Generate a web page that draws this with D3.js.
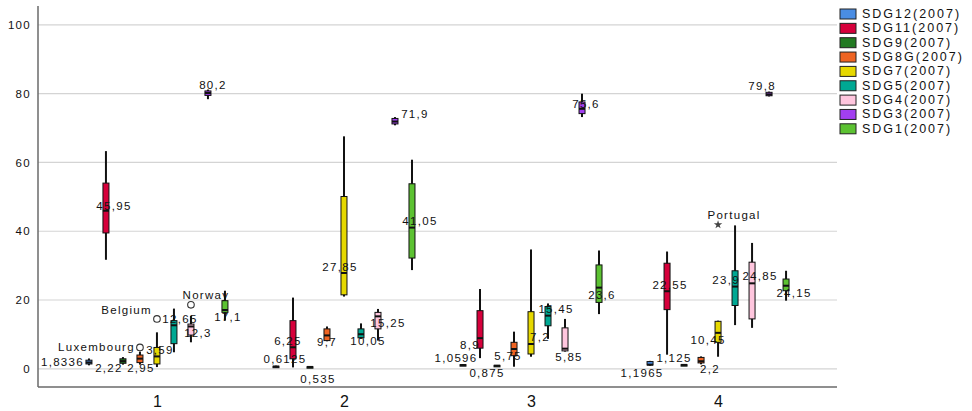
<!DOCTYPE html>
<html>
<head>
<meta charset="utf-8">
<script src="https://cdn.jsdelivr.net/npm/d3@7/dist/d3.min.js"></script>
<style>
  html, body { margin: 0; padding: 0; background: #fff; }
  svg { display: block; font-family: "Liberation Sans", Arial, sans-serif; }
</style>
</head>
<body>
<svg id="chart" width="972" height="411"></svg>
<script>
// ---------- DATA ----------
const categories = ['1', '2', '3', '4'];
const seriesNames = ['SDG12(2007)', 'SDG11(2007)', 'SDG9(2007)', 'SDG8G(2007)', 'SDG7(2007)',
                     'SDG5(2007)', 'SDG4(2007)', 'SDG3(2007)', 'SDG1(2007)'];
const yTicks = [0, 20, 40, 60, 80, 100];

// per category: [min, q1, median, q3, max]
const sdg12 = [[1.0, 1.4, 1.8336, 2.5, 3.0], [0.3, 0.45, 0.6125, 0.75, 0.9], [0.8, 0.95, 1.0596, 1.2, 1.3], [0.9, 1.1, 1.1965, 2.1, 2.3]];
const sdg11 = [[31.7, 39.5, 45.95, 54.0, 63.3], [0.4, 2.9, 6.25, 14.0, 20.7], [3.1, 6.0, 8.9, 16.9, 23.2], [4.1, 17.2, 22.55, 30.7, 34.1]];
const sdg9  = [[1.2, 1.6, 2.22, 2.9, 3.4], [0.4, 0.45, 0.535, 0.6, 0.65], [0.7, 0.8, 0.875, 1.0, 1.1], [0.95, 1.0, 1.125, 1.2, 1.3]];
const sdg8g = [[1.2, 1.8, 2.95, 4.0, 5.0], [8.0, 8.2, 9.7, 11.6, 12.3], [0.6, 3.8, 5.75, 7.7, 10.8], [1.3, 1.7, 2.2, 3.3, 3.6]];
const sdg7  = [[0.5, 1.4, 3.59, 6.2, 10.6], [21.0, 21.5, 27.85, 50.1, 67.6], [3.5, 4.3, 7.2, 16.6, 34.7], [3.5, 7.7, 10.45, 13.8, 14.0]];
const sdg5  = [[4.8, 7.3, 12.65, 14.0, 17.5], [8.7, 9.0, 10.05, 11.6, 13.2], [8.7, 12.5, 15.45, 18.1, 19.0], [12.7, 18.4, 23.9, 28.5, 41.7]];
const sdg4  = [[7.7, 9.8, 12.3, 13.0, 15.4], [8.2, 11.6, 15.25, 16.4, 17.4], [5.0, 5.2, 5.85, 11.9, 14.5], [11.9, 14.5, 24.85, 31.0, 36.6]];
const sdg3  = [[78.4, 79.5, 80.2, 80.8, 81.2], [70.8, 71.2, 71.9, 72.8, 73.2], [73.2, 74.2, 75.6, 77.6, 80.0], [79.2, 79.4, 79.8, 80.4, 80.6]];
const sdg1  = [[14.0, 16.4, 17.1, 19.8, 22.7], [28.7, 32.2, 41.05, 53.8, 60.8], [15.9, 19.3, 23.6, 30.2, 34.4], [19.8, 22.7, 24.15, 26.1, 28.5]];

const outlierSeries = ['SDG8G(2007)', 'SDG7(2007)', 'SDG4(2007)', 'SDG7(2007)'];
const outlierCats   = ['1', '1', '1', '4'];
const outlierValues = [6.2, 14.5, 18.6, 41.9];
const outlierLabels = ['Luxembourg', 'Belgium', 'Norway', 'Portugal'];
const outlierExtreme = [false, false, false, true];

// ---------- STYLE ----------
const colors = ['#4a8de3', '#d6003b', '#237a23', '#ef6423', '#e6d800', '#00a893', '#ffc6de', '#a23ff0', '#5cc232'];
// label nudges (dx, dy) for median labels, per series, per category
const labelNudge = [
  [[-5, 0, 'end'], [9, -8], [-7, -7], [-8, 8]],
  [[8, -5], [-5, -6], [-10, 7], [3, -6]],
  [[-14, 7], [8, 12], [-10, 7], [-10, -7]],
  [[1, 9], [0, 7], [-6, 7], [9, 8]],
  [[3, -6], [-4, -6], [9, -7], [-10, 7]],
  [[6, -6], [7, 7], [8, -7], [-9, -7]],
  [[7, 7], [10, 7], [4, 8], [8, -7]],
  [[5, -8], [20, -8], [4, -5], [-7, -8]],
  [[3, 7], [8, -7], [3, 7], [8, 7]]
];
const outlierLabelPlace = [[-5, 0, 'end'], [-5, -9, 'end'], [15, -10, 'middle'], [16, -10, 'middle']];

const allSeries = [sdg12, sdg11, sdg9, sdg8g, sdg7, sdg5, sdg4, sdg3, sdg1];
const fmt = v => String(v).replace('.', ',');

const svg = d3.select('#chart');
const plotLeft = 38, plotRight = 837, plotTop = 6, plotBottom = 387;
const textColor = '#111';

const y = d3.scaleLinear().domain([-5.3, 105.5]).range([plotBottom, plotTop]);
const x = d3.scalePoint().domain(categories).range([plotLeft, plotRight]).padding(0.636);
const xi = d3.scalePoint().domain(seriesNames).range([-68, 68]);
const color = d3.scaleOrdinal().domain(seriesNames).range(colors);

// gridlines
svg.append('g').selectAll('line').data(yTicks).join('line')
  .attr('x1', plotLeft).attr('x2', plotRight)
  .attr('y1', d => y(d)).attr('y2', d => y(d))
  .attr('stroke', '#d4d4d4').attr('stroke-width', 1.2);

// y axis
const yAxis = svg.append('g').attr('transform', `translate(${plotLeft},0)`)
  .call(d3.axisLeft(y).tickValues(yTicks).tickSize(0).tickPadding(7));
yAxis.select('.domain').attr('stroke', '#6a6a6a').attr('stroke-width', 1.5)
  .attr('d', `M0,${plotTop}V${plotBottom}`);
yAxis.selectAll('text').attr('font-size', 11.5).attr('letter-spacing', '1.3px')
  .attr('fill', textColor).attr('font-family', '"Liberation Sans", Arial, sans-serif');

// x axis
const xAxis = svg.append('g').attr('transform', `translate(0,${plotBottom})`)
  .call(d3.axisBottom(x).tickSize(0).tickPadding(9));
xAxis.select('.domain').attr('stroke', '#6a6a6a').attr('stroke-width', 1.5)
  .attr('d', `M${plotLeft},0H${plotRight}`);
xAxis.selectAll('text').attr('font-size', 16).attr('fill', textColor)
  .attr('font-family', '"Liberation Sans", Arial, sans-serif');

// boxes
const boxW = 6;
const rows = [];
seriesNames.forEach((s, si) => {
  categories.forEach((c, ci) => {
    const v = allSeries[si][ci];
    rows.push({ s, si, c, ci, min: v[0], q1: v[1], med: v[2], q3: v[3], max: v[4] });
  });
});

const g = svg.append('g');
const bx = d => x(d.c) + xi(d.s);

g.selectAll('.whisker').data(rows).join('line').attr('class', 'whisker')
  .attr('x1', bx).attr('x2', bx)
  .attr('y1', d => y(d.max)).attr('y2', d => y(d.min))
  .attr('stroke', '#111').attr('stroke-width', 2);

g.selectAll('.box').data(rows).join('rect').attr('class', 'box')
  .attr('x', d => bx(d) - boxW / 2).attr('width', boxW)
  .attr('y', d => y(d.q3)).attr('height', d => Math.max(1.5, y(d.q1) - y(d.q3)))
  .attr('fill', d => color(d.s)).attr('stroke', '#111').attr('stroke-width', 1);

g.selectAll('.median').data(rows).join('line').attr('class', 'median')
  .attr('x1', d => bx(d) - boxW / 2).attr('x2', d => bx(d) + boxW / 2)
  .attr('y1', d => y(d.med)).attr('y2', d => y(d.med))
  .attr('stroke', '#111').attr('stroke-width', 2);

// median labels
g.selectAll('.mlabel').data(rows).join('text').attr('class', 'mlabel')
  .attr('x', d => bx(d) + labelNudge[d.si][d.ci][0])
  .attr('y', d => y(d.med) + labelNudge[d.si][d.ci][1])
  .attr('text-anchor', d => labelNudge[d.si][d.ci][2] || 'middle')
  .attr('dominant-baseline', 'central')
  .attr('font-size', 11.5).attr('letter-spacing', '1.3px').attr('fill', textColor)
  .text(d => fmt(d.med));

// outliers
const outs = outlierValues.map((v, i) => ({
  s: outlierSeries[i], c: outlierCats[i], v, label: outlierLabels[i], extreme: outlierExtreme[i], i
}));
const og = svg.append('g');
og.selectAll('.out').data(outs.filter(d => !d.extreme)).join('circle').attr('class', 'out')
  .attr('cx', d => x(d.c) + xi(d.s)).attr('cy', d => y(d.v)).attr('r', 3.3)
  .attr('fill', 'none').attr('stroke', '#333').attr('stroke-width', 1.1);
og.selectAll('.ext').data(outs.filter(d => d.extreme)).join('path').attr('class', 'ext')
  .attr('transform', d => `translate(${x(d.c) + xi(d.s)},${y(d.v)})`)
  .attr('d', d3.symbol().type(d3.symbolStar).size(22))
  .attr('fill', '#444');
og.selectAll('.olabel').data(outs).join('text').attr('class', 'olabel')
  .attr('x', d => x(d.c) + xi(d.s) + outlierLabelPlace[d.i][0])
  .attr('y', d => y(d.v) + outlierLabelPlace[d.i][1])
  .attr('text-anchor', d => outlierLabelPlace[d.i][2])
  .attr('dominant-baseline', 'central')
  .attr('font-size', 11.5).attr('letter-spacing', '1.3px').attr('fill', textColor)
  .text(d => d.label);

// legend
const lg = svg.append('g').attr('transform', 'translate(840,14)');
const li = lg.selectAll('g').data(seriesNames).join('g')
  .attr('transform', (d, i) => `translate(0,${i * 14.35})`);
li.append('rect').attr('x', 0).attr('y', -5).attr('width', 16).attr('height', 10)
  .attr('fill', d => color(d)).attr('stroke', '#222').attr('stroke-width', 1);
li.append('text').attr('x', 22).attr('y', 0).attr('dominant-baseline', 'central')
  .attr('font-size', 12.5).attr('letter-spacing', '2px').attr('fill', textColor)
  .text(d => d);
</script>
</body>
</html>
